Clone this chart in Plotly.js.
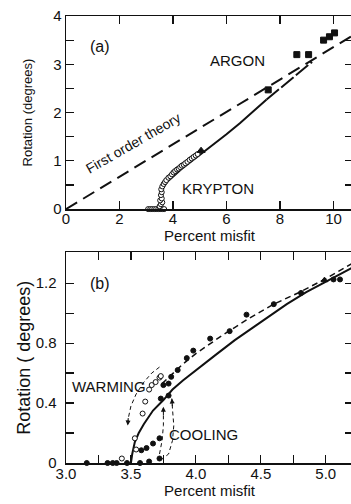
<!DOCTYPE html>
<html>
<head>
<meta charset="utf-8">
<script src="https://cdn.plot.ly/plotly-3.0.1.min.js"></script>
<style>
html,body{margin:0;padding:0;overflow:hidden;background:#fff;width:351px;height:504px;}
#chart{width:353px;height:504px;}
</style>
</head>
<body>
<div id="chart"></div>
<script>
// ---------- Panel (a) data ----------
const theoryAX = [0, 10.73];
const theoryAY = [0, 3.6];
const solidAX = [3.5, 3.52, 3.56, 3.62, 3.7, 3.85, 4.0, 4.3, 4.6, 5.0, 5.5, 6.0, 6.5, 7.0, 7.5];
const solidAY = [0, 0.15, 0.3, 0.42, 0.5, 0.6, 0.68, 0.82, 0.95, 1.12, 1.33, 1.55, 1.78, 2.02, 2.27];
const argonLineX = [7.5, 8.0, 8.5, 9.2];
const argonLineY = [2.27, 2.5, 2.73, 3.05];
const kryptonX = [3.07, 3.15, 3.22, 3.30, 3.37, 3.45, 3.52, 3.60, 3.67,
  3.50, 3.55, 3.60, 3.52, 3.58, 3.55, 3.58, 3.56, 3.60, 3.65, 3.70, 3.75, 3.83, 3.90, 3.96,
  4.02, 4.08, 4.15, 4.21, 4.27, 4.33, 4.40, 4.46, 4.54, 4.62, 4.70, 4.77, 4.85, 4.92];
const kryptonY = [0, 0, 0, 0, 0, 0, 0, 0, 0,
  0.06, 0.10, 0.14, 0.18, 0.22, 0.29, 0.35, 0.41, 0.47, 0.52, 0.56, 0.60, 0.65, 0.68, 0.72,
  0.76, 0.79, 0.82, 0.84, 0.87, 0.90, 0.92, 0.95, 0.98, 1.02, 1.05, 1.08, 1.11, 1.14];
const argonX = [7.56, 8.63, 9.07, 9.63, 9.85, 10.04];
const argonY = [2.47, 3.2, 3.2, 3.5, 3.57, 3.65];
const triAX = [5.05];
const triAY = [1.21];
const xTicksA = [0, 2, 4, 6, 8, 10];
const yTicksA = [0, 1, 2, 3, 4];

// ---------- Panel (b) data ----------
const solidBX = [3.5, 3.51, 3.53, 3.56, 3.6, 3.67, 3.75, 3.82, 3.9, 4.0, 4.15, 4.3, 4.5, 4.7, 4.85, 5.0, 5.22];
const solidBY = [0, 0.06, 0.14, 0.2, 0.26, 0.35, 0.42, 0.49, 0.55, 0.62, 0.72, 0.82, 0.94, 1.06, 1.14, 1.21, 1.31];
const dashBX = [3.74, 3.8, 3.9, 4.0, 4.2, 4.4, 4.6, 4.8, 5.0, 5.22];
const dashBY = [0.53, 0.58, 0.66, 0.73, 0.85, 0.96, 1.06, 1.14, 1.23, 1.34];
const coolX = [3.16, 3.32, 3.36, 3.39, 3.47, 3.57, 3.64, 3.72,
  3.58, 3.62, 3.67, 3.72, 3.73, 3.79,
  3.75, 3.79, 3.81, 3.86, 3.93, 3.98, 4.11, 4.26, 4.39, 4.60, 4.81, 5.06, 5.11];
const coolY = [0, 0, 0, 0, 0, 0, 0.01, 0.03,
  0.085, 0.1, 0.13, 0.165, 0.43, 0.45,
  0.52, 0.53, 0.575, 0.62, 0.70, 0.75, 0.83, 0.88, 0.99, 1.06, 1.135, 1.225, 1.225];
const warmX = [3.43, 3.54, 3.53, 3.59, 3.61, 3.64, 3.66, 3.69, 3.72, 3.73];
const warmY = [0.03, 0.09, 0.165, 0.33, 0.41, 0.49, 0.52, 0.54, 0.57, 0.58];
const triBX = [4.99];
const triBY = [1.22];
const warmArrowX = [3.72, 3.66, 3.6, 3.54, 3.5, 3.48, 3.475];
const warmArrowY = [0.64, 0.6, 0.54, 0.46, 0.38, 0.3, 0.25];
const coolInnerX = [3.72, 3.74, 3.75, 3.75];
const coolInnerY = [0.06, 0.15, 0.25, 0.375];
const coolOuterX = [3.73, 3.79, 3.82, 3.83, 3.82, 3.815];
const coolOuterY = [0.02, 0.06, 0.15, 0.25, 0.36, 0.43];
const xTicksB = [3.0, 3.5, 4.0, 4.5, 5.0];
const yTicksB = [0, 0.4, 0.8, 1.2];
const yTickTextB = ['0', '0.4', '0.8', '1.2'];

const FONT = 'Liberation Sans Narrow, Liberation Sans, Arial, sans-serif';
const TFONT = 'Liberation Sans, Arial, sans-serif';
const K = '#111';

function line(x, y, xa, ya, dash, w) {
  return {x, y, xaxis: xa, yaxis: ya, mode: 'lines', type: 'scatter', hoverinfo: 'skip',
    line: {color: K, width: w, dash: dash}, showlegend: false, cliponaxis: false};
}
function pts(x, y, xa, ya, open, sym, size) {
  return {x, y, xaxis: xa, yaxis: ya, mode: 'markers', type: 'scatter', hoverinfo: 'skip',
    marker: {symbol: sym, size: size, color: open ? '#fff' : K, line: {color: K, width: 1}},
    showlegend: false, cliponaxis: false};
}

const traces = [
  line(theoryAX, theoryAY, 'x', 'y', '13px,7px', 2),
  line(solidAX, solidAY, 'x', 'y', 'solid', 2),
  line(argonLineX, argonLineY, 'x', 'y', '16px,3px', 2),
  pts(kryptonX, kryptonY, 'x', 'y', true, 'circle', 5),
  pts(argonX, argonY, 'x', 'y', false, 'square', 6),
  pts(triAX, triAY, 'x', 'y', false, 'triangle-up', 7),

  line(solidBX, solidBY, 'x2', 'y2', 'solid', 2),
  line(dashBX, dashBY, 'x2', 'y2', '6px,4px', 1.5),
  line(warmArrowX, warmArrowY, 'x2', 'y2', '4px,3px', 1),
  line(coolInnerX, coolInnerY, 'x2', 'y2', '4px,3px', 1),
  line(coolOuterX, coolOuterY, 'x2', 'y2', '4px,3px', 1),
  pts(warmX, warmY, 'x2', 'y2', true, 'circle', 5),
  pts(coolX, coolY, 'x2', 'y2', false, 'circle', 5),
  pts(triBX, triBY, 'x2', 'y2', false, 'triangle-up', 6)
];

const axBase = {
  showgrid: false, zeroline: false, showline: true, linecolor: K, linewidth: 1.5,
  mirror: 'ticks', ticks: 'inside', ticklen: 8, tickwidth: 1.2, tickcolor: K,
  tickfont: {family: TFONT, size: 15, color: K}, fixedrange: true
};

function arrow(x, y, ax, ay) {
  return {x, y, ax, ay, xref: 'x2', yref: 'y2', axref: 'x2', ayref: 'y2', text: '',
    showarrow: true, arrowhead: 2, arrowsize: 1, arrowwidth: 1, arrowcolor: K, standoff: 0};
}
function label(text, x, y, xr, yr, size, angle) {
  return {text, x, y, xref: xr, yref: yr, showarrow: false, textangle: angle || 0,
    font: {family: FONT, size: size, color: K}};
}

const layout = {
  width: 353, height: 504,
  margin: {l: 66, r: 0, t: 16, b: 41},
  paper_bgcolor: '#fff', plot_bgcolor: '#fff',
  showlegend: false,
  xaxis: Object.assign({}, axBase, {domain: [0, 1], anchor: 'y', range: [0, 10.73],
    tickvals: xTicksA, ticktext: xTicksA.map(String), ticklabelstandoff: -5,
    title: {text: 'Percent misfit', font: {family: TFONT, size: 15, color: K}, standoff: 0}}),
  yaxis: Object.assign({}, axBase, {domain: [0.568, 1], anchor: 'x', range: [0, 4],
    tickvals: yTicksA, ticktext: yTicksA.map(String),
    minor: {dtick: 0.5, ticklen: 8, tickwidth: 1.2, tickcolor: K, ticks: 'inside'},
    title: {text: 'Rotation (degrees)', font: {family: TFONT, size: 13, color: K}, standoff: 17}}),
  xaxis2: Object.assign({}, axBase, {domain: [0, 1], anchor: 'y2', range: [3.0, 5.21],
    tickvals: xTicksB, ticktext: xTicksB.map(v => v.toFixed(1)), ticklabelstandoff: -4,
    minor: {dtick: 0.25, tick0: 3.0, ticklen: 8, tickwidth: 1.2, tickcolor: K, ticks: 'inside'},
    title: {text: 'Percent misfit', font: {family: TFONT, size: 15, color: K}, standoff: 3}}),
  yaxis2: Object.assign({}, axBase, {domain: [0, 0.471], anchor: 'x2', range: [0, 1.405],
    tickvals: yTicksB, ticktext: yTickTextB, ticklabelstandoff: 5,
    minor: {dtick: 0.2, ticklen: 8, tickwidth: 1.2, tickcolor: K, ticks: 'inside'},
    title: {text: 'Rotation ( degrees)', font: {family: TFONT, size: 18, color: K}, standoff: 0}}),
  annotations: [
    label('(a)', 1.27, 3.37, 'x', 'y', 16),
    label('ARGON', 6.4, 3.07, 'x', 'y', 15),
    label('KRYPTON', 5.7, 0.43, 'x', 'y', 15),
    label('First order theory', 2.52, 1.36, 'x', 'y', 14, -30),
    label('(b)', 3.26, 1.2, 'x2', 'y2', 16),
    label('WARMING', 3.33, 0.51, 'x2', 'y2', 15),
    label('COOLING', 4.06, 0.19, 'x2', 'y2', 15),
    arrow(3.475, 0.25, 3.48, 0.31),
    arrow(3.75, 0.375, 3.75, 0.31),
    arrow(3.815, 0.43, 3.82, 0.37)
  ]
};

Plotly.newPlot('chart', traces, layout, {displayModeBar: false, staticPlot: true});
</script>
</body>
</html>
